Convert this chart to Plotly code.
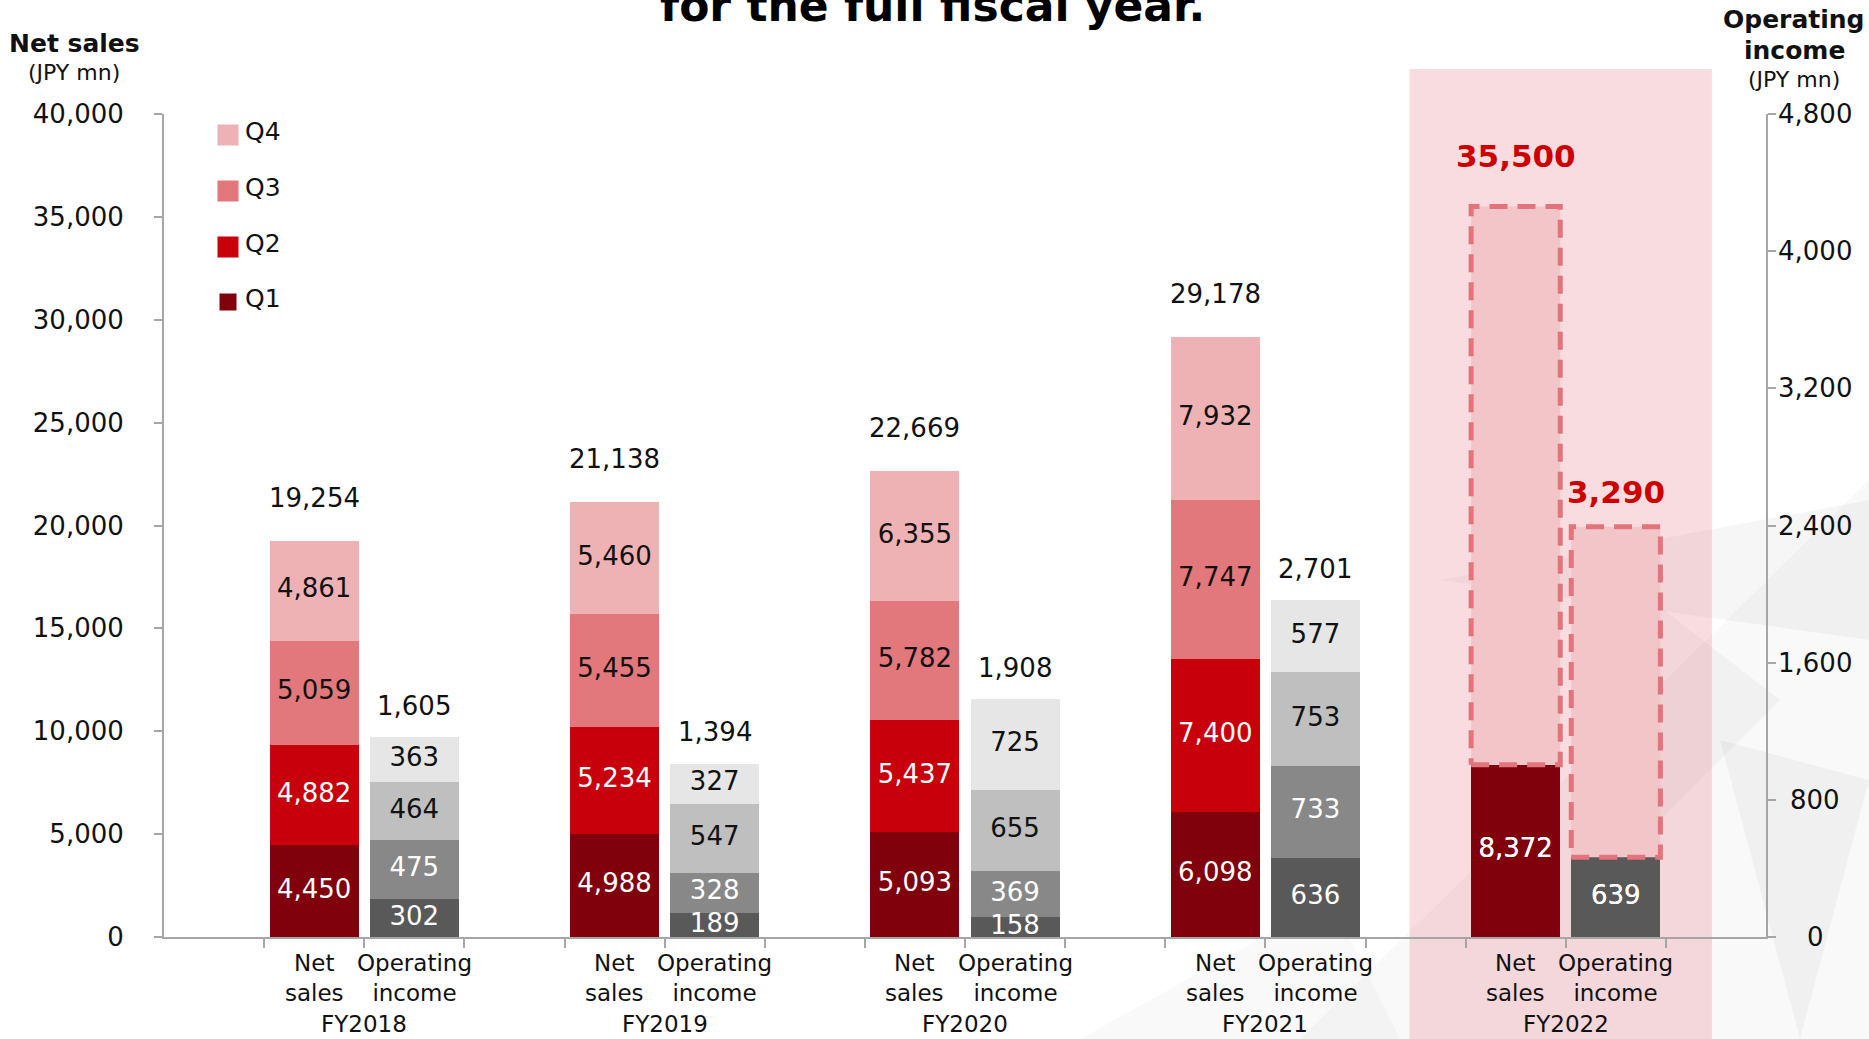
import plotly.graph_objects as go

# ---- canvas / plot-area geometry (pixels) ----
W, H = 1869, 1039
L, R, T, B = 164, 103, 114, 102
PW, PH = W - L - R, H - T - B


def fx(p):
    """pixel x -> paper x"""
    return (p - L) / PW


def fy(p):
    """pixel y (from top) -> paper y"""
    return (H - B - p) / PH


# ---- data ----
years = ["FY2018", "FY2019", "FY2020", "FY2021", "FY2022"]

sales_q1 = [4450, 4988, 5093, 6098, 8372]
sales_q2 = [4882, 5234, 5437, 7400]
sales_q3 = [5059, 5455, 5782, 7747]
sales_q4 = [4861, 5460, 6355, 7932]
sales_total = [19254, 21138, 22669, 29178]
sales_forecast = 35500

op_q1 = [302, 189, 158, 636, 639]
op_q2 = [475, 328, 369, 733]
op_q3 = [464, 547, 655, 753]
op_q4 = [363, 327, 725, 577]
op_total = [1605, 1394, 1908, 2701]
op_forecast = 3290

sales_ticks = [0, 5000, 10000, 15000, 20000, 25000, 30000, 35000, 40000]
op_tick_labels = ["0", "800", "1,600", "2,400", "3,200", "4,000", "4,800"]
quarter_names = ["Q1", "Q2", "Q3", "Q4"]

# ---- styling ----
FONT = "DejaVu Sans"
TXT = "#111111"
sales_colors = ["#80000B", "#C8000B", "#E2777C", "#EFB2B4"]
op_colors = ["#595959", "#888888", "#BFBFBF", "#E6E6E6"]
label_colors = ["white", "white", TXT, TXT]
AXIS_GREY = "#A6A6A6"
BAR_W = 0.89
SALES_MAX = 40000
OP_MAX = 6600

ns_x = [1 + 3 * i for i in range(len(years))]
op_x = [2 + 3 * i for i in range(len(years))]

fig = go.Figure()

sales_series = [sales_q1, sales_q2, sales_q3, sales_q4]
op_series = [op_q1, op_q2, op_q3, op_q4]

# stacked quarterly bars
for qi in range(4):
    sv = sales_series[qi]
    fig.add_trace(go.Bar(x=ns_x[:len(sv)], y=sv, width=BAR_W,
                         marker=dict(color=sales_colors[qi], line=dict(width=0)),
                         yaxis="y", showlegend=False, hoverinfo="skip"))
for qi in range(4):
    ov = op_series[qi]
    fig.add_trace(go.Bar(x=op_x[:len(ov)], y=ov, width=BAR_W,
                         marker=dict(color=op_colors[qi], line=dict(width=0)),
                         yaxis="y2", showlegend=False, hoverinfo="skip"))


# segment value labels at each segment's midpoint
def segment_labels(series, xs, axis):
    for qi in range(4):
        vals = series[qi]
        mids = []
        for i, v in enumerate(vals):
            below = sum(series[k][i] for k in range(qi))
            mids.append(below + v / 2)
        fig.add_trace(go.Scatter(
            x=xs[:len(vals)], y=mids, mode="text",
            text=[f"{v:,}" for v in vals],
            textfont=dict(family=FONT, size=26, color=label_colors[qi]),
            yaxis=axis, showlegend=False, hoverinfo="skip", cliponaxis=False))


segment_labels(sales_series, ns_x, "y")
segment_labels(op_series, op_x, "y2")

# FY2022 forecast outlines (dashed)
FC_FILL = "#F2C6C9"
FC_LINE = "#E4747C"
xs0 = ns_x[-1] - BAR_W / 2
xs1 = ns_x[-1] + BAR_W / 2
fig.add_trace(go.Scatter(
    x=[xs0, xs1, xs1, xs0, xs0],
    y=[sales_q1[-1], sales_q1[-1], sales_forecast, sales_forecast, sales_q1[-1]],
    mode="lines", fill="toself", fillcolor=FC_FILL,
    line=dict(color=FC_LINE, width=5, dash="18px,10px"),
    yaxis="y", showlegend=False, hoverinfo="skip"))
xo0 = op_x[-1] - BAR_W / 2
xo1 = op_x[-1] + BAR_W / 2
fig.add_trace(go.Scatter(
    x=[xo0, xo1, xo1, xo0, xo0],
    y=[op_q1[-1], op_q1[-1], op_forecast, op_forecast, op_q1[-1]],
    mode="lines", fill="toself", fillcolor=FC_FILL,
    line=dict(color=FC_LINE, width=5, dash="18px,10px"),
    yaxis="y2", showlegend=False, hoverinfo="skip"))
# FY2022 Q1 labels on top of the outlines
fig.add_trace(go.Scatter(x=[ns_x[-1]], y=[sales_q1[-1] / 2], mode="text",
                         text=[f"{sales_q1[-1]:,}"],
                         textfont=dict(family=FONT, size=26, color="white"),
                         yaxis="y", showlegend=False, hoverinfo="skip"))
fig.add_trace(go.Scatter(x=[op_x[-1]], y=[op_q1[-1] / 2], mode="text",
                         text=[f"{op_q1[-1]:,}"],
                         textfont=dict(family=FONT, size=26, color="white"),
                         yaxis="y2", showlegend=False, hoverinfo="skip"))

annotations = []

# totals above bars
for i, tot in enumerate(sales_total):
    annotations.append(dict(x=ns_x[i], y=tot, xref="x", yref="y", text=f"{tot:,}",
                            showarrow=False, yanchor="bottom", yshift=26,
                            font=dict(family=FONT, size=26, color=TXT)))
for i, tot in enumerate(op_total):
    annotations.append(dict(x=op_x[i], y=tot, xref="x", yref="y2", text=f"{tot:,}",
                            showarrow=False, yanchor="bottom", yshift=14,
                            font=dict(family=FONT, size=26, color=TXT)))
annotations.append(dict(x=ns_x[-1], y=sales_forecast, xref="x", yref="y",
                        text=f"<b>{sales_forecast:,}</b>", showarrow=False,
                        yanchor="bottom", yshift=31,
                        font=dict(family=FONT, size=31, color="#CC0000")))
annotations.append(dict(x=op_x[-1], y=op_forecast, xref="x", yref="y2",
                        text=f"<b>{op_forecast:,}</b>", showarrow=False,
                        yanchor="bottom", yshift=15,
                        font=dict(family=FONT, size=31, color="#CC0000")))

# category labels under the axis
for i, yr in enumerate(years):
    annotations.append(dict(x=ns_x[i], y=0, xref="x", yref="paper", text="Net<br>sales",
                            showarrow=False, yanchor="top", yshift=-11,
                            font=dict(family=FONT, size=23, color=TXT)))
    annotations.append(dict(x=op_x[i], y=0, xref="x", yref="paper",
                            text="Operating<br>income",
                            showarrow=False, yanchor="top", yshift=-11,
                            font=dict(family=FONT, size=23, color=TXT)))
    annotations.append(dict(x=(ns_x[i] + op_x[i]) / 2, y=0, xref="x", yref="paper",
                            text=yr, showarrow=False, yanchor="top", yshift=-72,
                            font=dict(family=FONT, size=23, color=TXT)))

# right-hand operating income tick labels, centred beside the ticks
for k, lab in enumerate(op_tick_labels):
    annotations.append(dict(x=fx(1815), y=OP_MAX * k / 6, xref="paper", yref="y2",
                            text=lab, showarrow=False, xanchor="center",
                            yanchor="middle",
                            font=dict(family=FONT, size=26, color=TXT)))


def label(px, py, text, size, bold=False, xanchor="center"):
    return dict(x=fx(px), y=fy(py), xref="paper", yref="paper",
                text=f"<b>{text}</b>" if bold else text, showarrow=False,
                xanchor=xanchor, yanchor="middle",
                font=dict(family=FONT, size=size, color=TXT))


# axis titles and heading
annotations += [
    label(74, 43, "Net sales", 25, bold=True),
    label(74, 72, "(JPY mn)", 22),
    label(1794, 19, "Operating", 25, bold=True),
    label(1794, 51, "income", 25, bold=True),
    label(1794, 80, "(JPY mn)", 22),
]
heading = label(932, 6, "for the full fiscal year.", 44, bold=True)
heading["font"]["color"] = "#000000"
annotations.append(heading)

shapes = []


# faint geometric backdrop
def poly(points, color):
    d = "M " + " L ".join(f"{fx(px):.5f},{fy(py):.5f}" for px, py in points) + " Z"
    return dict(type="path", path=d, xref="paper", yref="paper",
                fillcolor=color, line=dict(width=0), layer="below")


shapes += [
    poly([(1300, 1039), (1869, 480), (1869, 1039)], "rgba(0,0,0,0.025)"),
    poly([(1440, 580), (1869, 500), (1869, 640)], "rgba(0,0,0,0.035)"),
    poly([(1600, 560), (1780, 700), (1640, 840)], "rgba(0,0,0,0.03)"),
    poly([(1720, 740), (1869, 780), (1800, 1039)], "rgba(0,0,0,0.035)"),
    poly([(1080, 1039), (1330, 900), (1400, 1039)], "rgba(0,0,0,0.025)"),
]

# FY2022 highlight band
shapes.append(dict(type="rect", xref="x", yref="paper",
                   x0=ns_x[-1] - 1.06, x1=op_x[-1] + 0.96,
                   y0=fy(1045), y1=fy(69),
                   fillcolor="rgba(230,110,120,0.24)", line=dict(width=0), layer="below"))

# legend swatches
legend_y = [302, 247, 191, 135]
legend_size = [17, 21, 21, 21]
for qi in range(4):
    cy, s = legend_y[qi], legend_size[qi]
    shapes.append(dict(type="rect", xref="paper", yref="paper",
                       x0=fx(228 - s / 2), x1=fx(228 + s / 2),
                       y0=fy(cy + s / 2), y1=fy(cy - s / 2),
                       fillcolor=sales_colors[qi], line=dict(width=0)))
    annotations.append(label(243, cy - 4, quarter_names[qi], 25, xanchor="left"))

fig.update_layout(
    width=W, height=H,
    margin=dict(l=L, r=R, t=T, b=B, pad=0),
    paper_bgcolor="white", plot_bgcolor="rgba(0,0,0,0)",
    barmode="stack", bargap=0,
    showlegend=False,
    annotations=annotations, shapes=shapes,
    xaxis=dict(range=[-0.5, 15.5], showgrid=False, zeroline=False,
               showline=True, linecolor=AXIS_GREY, linewidth=2,
               tickvals=[k + 0.5 for k in range(15)], ticks="outside",
               ticklen=9, tickwidth=2, tickcolor=AXIS_GREY,
               showticklabels=False, fixedrange=True),
    yaxis=dict(range=[0, SALES_MAX], tickvals=sales_ticks,
               ticktext=[f"{v:,}" for v in sales_ticks],
               showgrid=False, zeroline=False, showline=True,
               linecolor=AXIS_GREY, linewidth=2, ticks="outside", ticklen=8,
               tickwidth=2, tickcolor=AXIS_GREY, ticklabelstandoff=25,
               tickfont=dict(family=FONT, size=26, color=TXT)),
    yaxis2=dict(range=[0, OP_MAX], overlaying="y", side="right", anchor="x",
                tickvals=[OP_MAX * k / 6 for k in range(7)],
                showticklabels=False,
                showgrid=False, zeroline=False, showline=True,
                linecolor=AXIS_GREY, linewidth=2, ticks="outside", ticklen=8,
                tickwidth=2, tickcolor=AXIS_GREY),
)

fig.write_html("out.html")
